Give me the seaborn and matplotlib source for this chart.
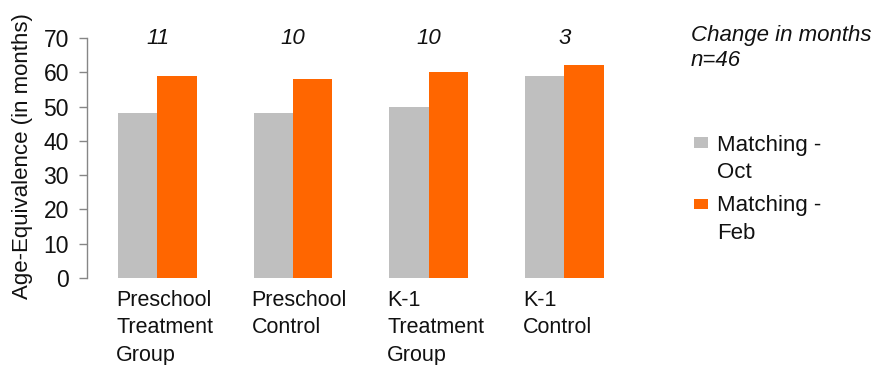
import matplotlib
matplotlib.use("Agg")
import matplotlib.pyplot as plt
import matplotlib.transforms as mtransforms
from matplotlib.patches import Rectangle
import seaborn as sns
import pandas as pd

groups = ["Preschool\nTreatment\nGroup", "Preschool\nControl", "K-1\nTreatment\nGroup", "K-1\nControl"]
oct_values = [48, 48, 50, 59]
feb_values = [59, 58, 60, 62]
changes = ["11", "10", "10", "3"]
series_names = ["Matching -\nOct", "Matching -\nFeb"]
y_ticks = [0, 10, 20, 30, 40, 50, 60, 70]

sns.set_theme(style="white")
plt.rcParams["font.family"] = ["Liberation Sans", "DejaVu Sans"]

df = pd.DataFrame({
    "group": groups * 2,
    "series": [series_names[0]] * len(groups) + [series_names[1]] * len(groups),
    "value": oct_values + feb_values,
})

colors = ["#BFBFBF", "#FF6600"]
text_color = "#111111"

W, H = 875, 365
fig = plt.figure(figsize=(W / 100, H / 100), dpi=100)
ax = fig.add_axes([87 / W, 1 - 278 / H, 545 / W, 240 / H])

sns.barplot(data=df, x="group", y="value", hue="series", palette=colors,
            width=0.58, saturation=1, ax=ax, legend=False, linewidth=0)

ax.set_ylim(0, 70)
ax.set_xlim(-0.52, 3.5)
ax.set_yticks(y_ticks)
ax.set_yticklabels([str(v) for v in y_ticks], fontsize=16.5, color=text_color)
ax.set_ylabel("Age-Equivalence (in months)", fontsize=16, color=text_color)
ax.yaxis.set_label_coords(-(87 - 33) / 545, 0.51)
ax.set_xlabel("")
ax.set_xticks([])

for side in ["top", "right", "bottom"]:
    ax.spines[side].set_visible(False)
ax.spines["left"].set_color("#868686")
ax.spines["left"].set_linewidth(1.0)
ax.tick_params(axis="y", which="major", direction="out", length=5.5, width=1.0,
               color="#868686", pad=7.5, left=True)

# Category labels, left-aligned under each group's first bar
trans = mtransforms.blended_transform_factory(ax.transData, ax.transAxes)
for i, label in enumerate(groups):
    ax.text(i - 0.305, -0.05, label, transform=trans, ha="left", va="top",
            fontsize=15.5, color=text_color, linespacing=1.4)

# Change-in-months annotations above each group
for i, c in enumerate(changes):
    ax.text(i, 70, c, ha="center", va="center", fontsize=16, style="italic",
            color=text_color, clip_on=False)

fig.text(691 / W, 1 - 35 / H, "Change in months", ha="left", va="center",
         fontsize=16, style="italic", color=text_color)
fig.text(691 / W, 1 - 61 / H, "n=46", ha="left", va="center",
         fontsize=16, style="italic", color=text_color)

# Legend: swatch aligned with the first line of each two-line label
legend_rows = [(143, 172), (204, 232)]
for (y1, y2), name, col in zip(legend_rows, series_names, colors):
    first, second = name.split("\n")
    fig.patches.append(Rectangle((694 / W, 1 - (y1 + 5) / H), 14 / W, 10.5 / H,
                                 transform=fig.transFigure, facecolor=col,
                                 edgecolor="none"))
    fig.text(717 / W, 1 - (y1 + 2) / H, first, ha="left", va="center",
             fontsize=16, color=text_color)
    fig.text(717 / W, 1 - (y2 + 1) / H, second, ha="left", va="center",
             fontsize=16, color=text_color)

fig.savefig("out.png", dpi=100)
